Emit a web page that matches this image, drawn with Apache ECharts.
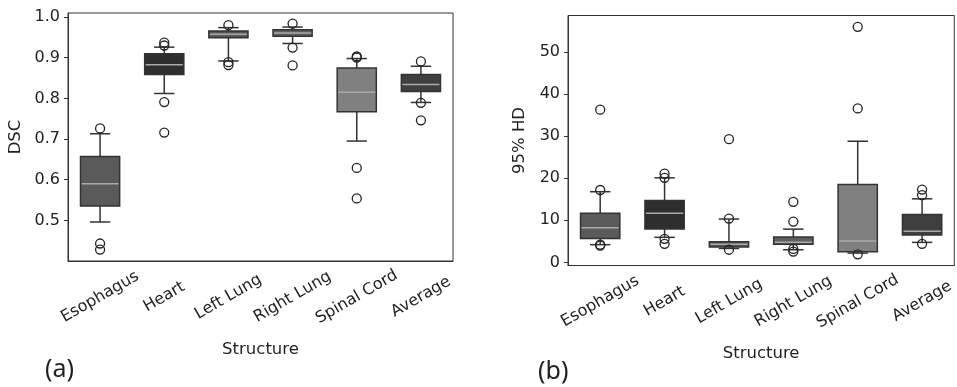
<!DOCTYPE html>
<html>
<head>
<meta charset="utf-8">
<script src="https://cdn.jsdelivr.net/npm/echarts@6/dist/echarts.min.js"></script>
<style>
  html, body { margin: 0; padding: 0; background: #fff; }
  #main { width: 957px; height: 387px; }
</style>
</head>
<body>
<div id="main"></div>
<script>
const categories = ['Esophagus', 'Heart', 'Left Lung', 'Right Lung', 'Spinal Cord', 'Average'];
const boxColors = ['#5a5a5a', '#2e2e2e', '#565656', '#606060', '#808080', '#3f3f3f'];

// [lower whisker, Q1, median, Q3, upper whisker]
const dscBoxes = [
  [0.496, 0.535, 0.590, 0.657, 0.713],
  [0.812, 0.859, 0.883, 0.910, 0.926],
  [0.892, 0.949, 0.9575, 0.9656, 0.974],
  [0.935, 0.9526, 0.961, 0.969, 0.9754],
  [0.695, 0.767, 0.815, 0.875, 0.898],
  [0.790, 0.817, 0.834, 0.859, 0.879]
];
const dscOutliers = [
  [0, 0.726], [0, 0.443], [0, 0.428],
  [1, 0.937], [1, 0.930], [1, 0.791], [1, 0.716],
  [2, 0.980], [2, 0.889], [2, 0.882],
  [3, 0.984], [3, 0.925], [3, 0.881],
  [4, 0.903], [4, 0.900], [4, 0.629], [4, 0.554],
  [5, 0.891], [5, 0.789], [5, 0.746]
];

const hdBoxes = [
  [4.2, 5.7, 8.25, 11.7, 16.8],
  [5.95, 7.9, 11.65, 14.7, 20.1],
  [3.3, 3.66, 4.3, 4.92, 10.3],
  [3.0, 4.3, 4.75, 6.0, 7.9],
  [2.2, 2.5, 5.1, 18.5, 28.8],
  [4.75, 6.5, 7.4, 11.4, 15.1]
];
const hdOutliers = [
  [0, 36.3], [0, 17.2], [0, 4.2], [0, 4.0],
  [1, 21.1], [1, 20.1], [1, 5.6], [1, 4.4],
  [2, 29.3], [2, 10.4], [2, 3.0],
  [3, 14.4], [3, 9.7], [3, 3.2], [3, 2.55],
  [4, 56.0], [4, 36.6], [4, 1.9],
  [5, 17.3], [5, 16.0], [5, 4.4]
];

const dscTicks = [0.5, 0.6, 0.7, 0.8, 0.9, 1.0];
const hdTicks = [0, 10, 20, 30, 40, 50];

const FONT = 'DejaVu Sans';
const TXT = '#1f1f1f';
const EDGE = '#333333';

function boxRender(params, api) {
  const i = api.value(0);
  const band = api.size([1, 0])[0];
  const bw = band * 0.61;
  const cw = bw * 0.52;
  const x = api.coord([i, api.value(1)])[0];
  const y = v => api.coord([i, v])[1];
  const lo = y(api.value(1)), q1 = y(api.value(2)), md = y(api.value(3)),
        q3 = y(api.value(4)), hi = y(api.value(5));
  const ls = { stroke: EDGE, lineWidth: 1.5 };
  return {
    type: 'group',
    children: [
      { type: 'line', shape: { x1: x, y1: lo, x2: x, y2: q1 }, style: ls },
      { type: 'line', shape: { x1: x, y1: q3, x2: x, y2: hi }, style: ls },
      { type: 'line', shape: { x1: x - cw / 2, y1: lo, x2: x + cw / 2, y2: lo }, style: ls },
      { type: 'line', shape: { x1: x - cw / 2, y1: hi, x2: x + cw / 2, y2: hi }, style: ls },
      { type: 'rect', shape: { x: x - bw / 2, y: q3, width: bw, height: q1 - q3 },
        style: { fill: boxColors[i], stroke: EDGE, lineWidth: 1.5 } },
      { type: 'line', shape: { x1: x - bw / 2 + 1, y1: md, x2: x + bw / 2 - 1, y2: md },
        style: { stroke: '#a9a9a9', lineWidth: 1.5 } }
    ]
  };
}

function xAxisOf(gridIndex) {
  return {
    type: 'category', gridIndex, data: categories,
    name: 'Structure', nameLocation: 'middle', nameGap: 80,
    nameTextStyle: { fontFamily: FONT, fontSize: 16.5, color: TXT },
    axisLine: { onZero: false, lineStyle: { color: EDGE, width: 1 } },
    axisTick: { alignWithLabel: true, length: 4, lineStyle: { color: EDGE } },
    axisLabel: { rotate: 30, align: 'center', verticalAlign: 'middle', margin: 36,
      fontFamily: FONT, fontSize: 16, color: TXT, interval: 0 },
    splitLine: { show: false }
  };
}

function yAxisOf(gridIndex, name, min, max, ticks, gap, fmt) {
  return {
    type: 'value', gridIndex, min, max, name,
    nameLocation: 'middle', nameGap: gap,
    nameTextStyle: { fontFamily: FONT, fontSize: 16.5, color: TXT },
    axisLine: { show: true, onZero: false, lineStyle: { color: EDGE, width: 1 } },
    axisTick: { show: true, length: 4, lineStyle: { color: EDGE }, customValues: ticks },
    axisLabel: { fontFamily: FONT, fontSize: 16, color: TXT, margin: 8,
      customValues: ticks, formatter: fmt },
    splitLine: { show: false }
  };
}

function seriesOf(idx, boxes, outliers) {
  return [
    {
      type: 'custom', xAxisIndex: idx, yAxisIndex: idx,
      renderItem: boxRender,
      encode: { x: 0, y: [1, 2, 3, 4, 5] },
      data: boxes.map((b, i) => [i].concat(b)),
      silent: true
    },
    {
      type: 'scatter', xAxisIndex: idx, yAxisIndex: idx,
      symbol: 'circle', symbolSize: 9,
      itemStyle: { color: 'rgba(255,255,255,0)', borderColor: '#222', borderWidth: 1.3, opacity: 1 },
      data: outliers, silent: true, z: 5
    }
  ];
}

const chart = echarts.init(document.getElementById('main'), null, { renderer: 'canvas' });
chart.setOption({
  animation: false,
  backgroundColor: '#fff',
  grid: [
    { left: 68, top: 13, width: 385, height: 248, show: true, borderColor: EDGE, borderWidth: 1 },
    { left: 568, top: 15.5, width: 388, height: 250, show: true, borderColor: EDGE, borderWidth: 1 }
  ],
  xAxis: [xAxisOf(0), xAxisOf(1)],
  yAxis: [
    yAxisOf(0, 'DSC', 0.4, 1.01, dscTicks, 44, v => v.toFixed(1)),
    yAxisOf(1, '95% HD', -0.75, 58.7, hdTicks, 40, v => String(v))
  ],
  series: seriesOf(0, dscBoxes, dscOutliers).concat(seriesOf(1, hdBoxes, hdOutliers)),
  graphic: [
    { type: 'text', left: 45, top: 357, style: { text: '(a)', font: '25px "Noto Sans"', fill: TXT } },
    { type: 'text', left: 538, top: 359, style: { text: '(b)', font: '25px "Noto Sans"', fill: TXT } }
  ]
});
</script>
</body>
</html>
